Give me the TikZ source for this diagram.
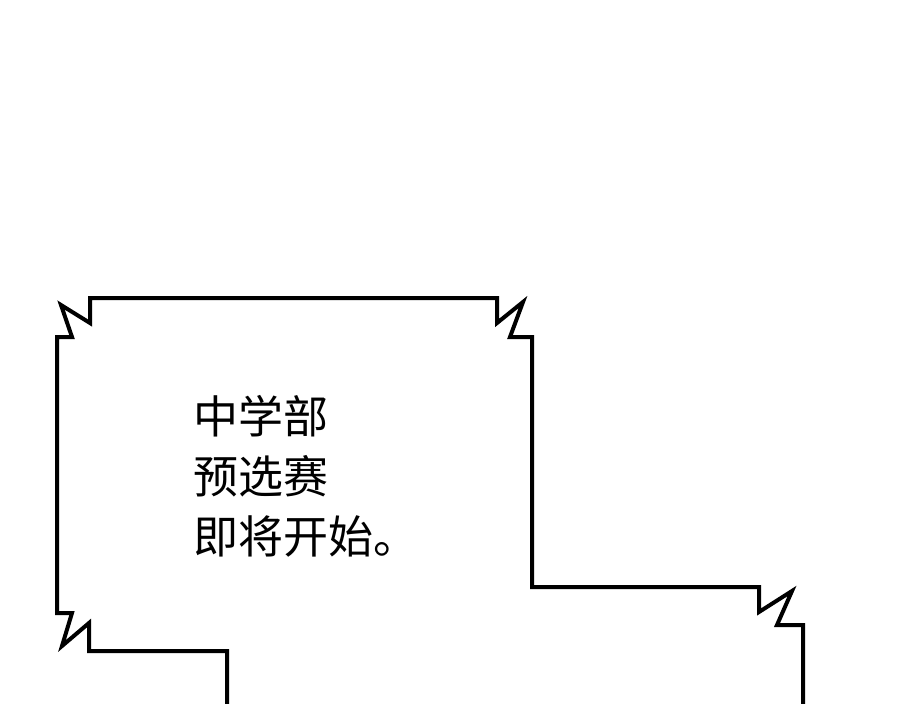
\documentclass[tikz,border=0pt]{standalone}
\usepackage{fontspec}
\newfontfamily\cjk{Noto Sans CJK SC}
\usetikzlibrary{positioning}

\tikzset{
  frame/.style={draw=black,line width=4pt,line join=miter,miter limit=4},
  txt/.style={font=\cjk\fontsize{45}{60}\selectfont,inner sep=0pt,anchor=base west}
}

\begin{document}
\begin{tikzpicture}[x=1pt,y=-1pt]
\useasboundingbox (0,0) rectangle (900,704);

% jagged caption box
\draw[frame] (227,704) -- (227,651) -- (89,651) -- (89,623) -- (62,646) -- (72,613)
  -- (57,613) -- (57,337) -- (72,337) -- (61,305) -- (90,323) -- (90,298)
  -- (497,298) -- (497,323) -- (523,302) -- (510,337) -- (532,337)
  -- (532,587) -- (759,587) -- (759,612) -- (792,591) -- (777,625)
  -- (803,625) -- (803,704);

\node[txt] (l1) at (193,433) {中学部};
\node[txt] (l2) [below=60pt of l1.base west,anchor=base west] {预选赛};
\node[txt] (l3) [below=60pt of l2.base west,anchor=base west] {即将开始。};

\end{tikzpicture}
\end{document}
